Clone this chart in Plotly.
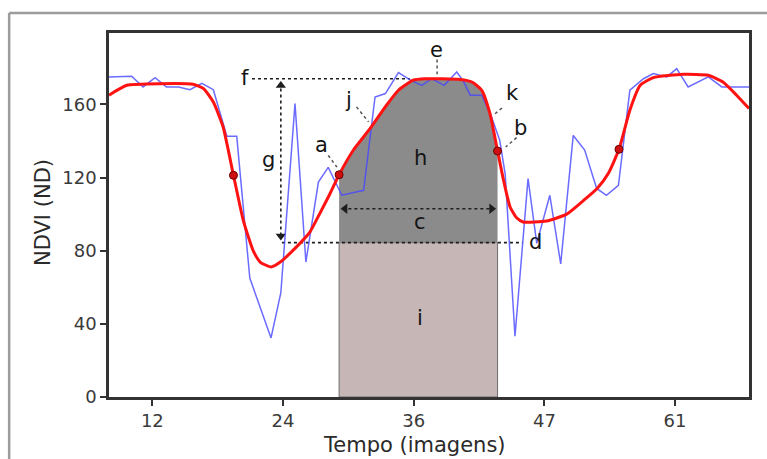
import numpy as np
import plotly.graph_objects as go

# ---------------- data ----------------
tick_vals = [12, 24, 36, 48, 60]
tick_text = ["12", "24", "36", "47", "61"]

raw_t = [8.02, 9.1, 10.1, 11.15, 12.25, 13.3, 14.4, 15.45, 16.55, 17.6, 18.85, 19.75,
         20.95, 22.9, 23.8, 25.1, 26.1, 27.25, 28.15, 29.4, 30.4, 31.4, 32.45, 33.4,
         34.6, 35.7, 36.75, 37.65, 38.8, 39.95, 40.55, 41.2, 42.25, 43.15, 43.9, 44.4,
         45.3, 46.5, 47.3, 48.5, 49.5, 50.65, 51.7, 52.8, 53.7, 54.8, 55.85, 57.1,
         58.0, 59.25, 60.15, 61.2, 63.05, 64.3, 65.35, 66.79]
raw_ndvi = [175, 175, 175.4, 169.5, 174.6, 169.5, 169.5, 168, 171.5, 168, 142.5, 142.5,
            65, 32.3, 57, 160.4, 73.8, 117.5, 125.5, 110.3, 111.5, 113, 164, 165.9,
            177.4, 173.2, 170.4, 174, 170.4, 177.7, 172.8, 165, 165, 153, 140.3, 122,
            33.2, 119.4, 84, 110.3, 72.8, 143, 135, 114, 110.3, 115.7, 167.7, 174,
            176.8, 175, 179.5, 169.5, 175, 169.5, 169.5, 169.5]

fit_t = [8.02, 9.65, 12.7, 15.75, 16.7, 17.6, 18.5, 19.45, 20.35, 21.25, 21.9, 22.9,
         23.75, 25.55, 26.45, 27.35, 28.3, 29.15, 30.45, 32.0, 33.5, 34.6, 35.95, 37.05,
         40.25, 41.35, 42.25, 43.0, 43.7, 44.25, 44.85, 45.45, 46.05, 48.2, 50.05, 51.7,
         52.85, 53.85, 54.85, 55.85, 56.8, 58.0, 60.75, 63.05, 64.4, 65.65, 66.79]
fit_ndvi = [165, 170.4, 171.3, 171.0, 168.6, 161.3, 147.6, 121.2, 96.6, 80.2, 73.8, 71.1,
            73.8, 84.0, 90.0, 100.0, 111.0, 121.5, 134.9, 146.8, 159.5, 167.7, 173.2, 174.0,
            173.6, 172.2, 167.7, 155.0, 134.5, 118.5, 103.9, 98.0, 95.7, 96.2, 100.0, 108.0,
            114.0, 122.0, 135.4, 156.8, 170.4, 174.6, 176.4, 175.9, 172.2, 165.0, 157.7]

event_t = [19.45, 29.15, 43.7, 54.85]
event_ndvi = [121.2, 121.5, 134.5, 135.4]

season_start = 29.15
season_end = 43.7
base_level = 84.4
peak_level = 174.0

FONT = "DejaVu Sans"
fig = go.Figure()

# light rectangle (i): base area
fig.add_trace(go.Scatter(
    x=[season_start, season_end, season_end, season_start, season_start],
    y=[0, 0, base_level, base_level, 0],
    mode="lines", fill="toself", fillcolor="#c6b6b6",
    line=dict(color="#6e6e6e", width=1), hoverinfo="skip"))

# dark region (h): between base level and fitted curve
ft = np.array(fit_t)
fv = np.array(fit_ndvi)
sel = (ft >= season_start) & (ft <= season_end)
poly_x = [season_start] + list(ft[sel]) + [season_end, season_end, season_start]
poly_y = [base_level] + list(fv[sel]) + [base_level, base_level, base_level]
fig.add_trace(go.Scatter(x=poly_x, y=poly_y, mode="lines", fill="toself",
                         fillcolor="#8b8b8b", line=dict(width=0), hoverinfo="skip"))

dot_line = dict(color="#1e1e1e", width=1.6, dash="dot")
# f line (peak level)
fig.add_trace(go.Scatter(x=[21.15, 35.65], y=[peak_level, peak_level], mode="lines",
                         line=dot_line, hoverinfo="skip"))
# d line (base level)
fig.add_trace(go.Scatter(x=[23.9, 46.0], y=[base_level, base_level], mode="lines",
                         line=dot_line, hoverinfo="skip"))
# g arrow (amplitude)
gx = 23.8
fig.add_trace(go.Scatter(x=[gx, gx], y=[peak_level - 2, base_level + 2], mode="lines",
                         line=dot_line, hoverinfo="skip"))
fig.add_trace(go.Scatter(x=[gx, gx], y=[170.3, 88.0], mode="markers",
                         marker=dict(symbol=["triangle-up", "triangle-down"], size=9,
                                     color="#1e1e1e"), hoverinfo="skip"))
# c arrow (length of season)
cy = 102.9
fig.add_trace(go.Scatter(x=[season_start + 0.3, season_end - 0.3], y=[cy, cy], mode="lines",
                         line=dot_line, hoverinfo="skip"))
fig.add_trace(go.Scatter(x=[season_start + 0.55, season_end - 0.55], y=[cy, cy], mode="markers",
                         marker=dict(symbol=["triangle-left", "triangle-right"], size=9,
                                     color="#1e1e1e"), hoverinfo="skip"))

# leader lines for labels
lead = dict(color="#555555", width=1.5, dash="dot")
leaders = [([38.15, 38.15], [184.5, 176.5]),   # e
           ([30.75, 31.85], [158.6, 150.4]),   # j
           ([44.1, 43.3], [158.0, 154.0]),     # k
           ([45.45, 44.45], [141.8, 136.7]),   # b
           ([28.15, 28.95], [132.1, 125.7])]   # a
for lx, ly in leaders:
    fig.add_trace(go.Scatter(x=lx, y=ly, mode="lines", line=lead, hoverinfo="skip"))

# raw NDVI
fig.add_trace(go.Scatter(x=raw_t, y=raw_ndvi, mode="lines",
                         line=dict(color="rgba(70,70,255,0.8)", width=1.5), hoverinfo="skip"))
# fitted curve
fig.add_trace(go.Scatter(x=fit_t, y=fit_ndvi, mode="lines", line_shape="spline",
                         line=dict(color="#ff1212", width=3, smoothing=0.5), hoverinfo="skip"))
# event points
fig.add_trace(go.Scatter(x=event_t, y=event_ndvi, mode="markers",
                         marker=dict(size=8, color="#d01010",
                                     line=dict(color="#6a0000", width=1)), hoverinfo="skip"))

# letter labels
labels = [("f", 20.5, 174.5), ("g", 22.65, 129.4), ("a", 27.5, 138.0), ("j", 30.0, 162.2),
          ("e", 38.05, 189.5), ("h", 36.6, 130.5), ("k", 45.1, 166.0), ("b", 45.85, 146.9),
          ("c", 36.6, 95.5), ("d", 47.2, 84.6), ("i", 36.6, 43.0)]
for txt, lx, ly in labels:
    fig.add_annotation(x=lx, y=ly, text=txt, showarrow=False,
                       font=dict(family=FONT, size=21, color="#151515"),
                       xanchor="center", yanchor="middle")

# axis titles
fig.add_annotation(xref="paper", yref="paper", x=0.4766, y=-0.131, text="Tempo (imagens)",
                   showarrow=False, font=dict(family=FONT, size=21, color="#2a2a2a"),
                   xanchor="center", yanchor="middle")
fig.add_annotation(xref="paper", yref="paper", x=-0.1031, y=0.5055, text="NDVI (ND)",
                   showarrow=False, textangle=-90,
                   font=dict(family=FONT, size=21, color="#2a2a2a"),
                   xanchor="center", yanchor="middle")

# outer figure frame (top and left)
frame = dict(color="#9c9c9c", width=2.5)
fig.add_shape(type="line", xref="paper", yref="paper", x0=-0.156, x1=1.03, y0=1.0549, y1=1.0549,
              line=frame)
fig.add_shape(type="line", xref="paper", yref="paper", x0=-0.156, x1=-0.156, y0=1.0549, y1=-0.18,
              line=frame)

axis_common = dict(showgrid=False, zeroline=False, showline=True, mirror=True,
                   linecolor="#333333", linewidth=2.5, ticks="outside", ticklen=6,
                   tickwidth=2, tickcolor="#333333",
                   tickfont=dict(family=FONT, size=18, color="#3a3a3a"))
fig.update_xaxes(range=[8.02, 66.79], tickvals=tick_vals, ticktext=tick_text, **axis_common)
fig.update_yaxes(range=[0, 199], tickvals=[0, 40, 80, 120, 160], **axis_common)

fig.update_layout(width=767, height=459, margin=dict(l=109, r=18, t=33, b=62),
                  paper_bgcolor="white", plot_bgcolor="white", showlegend=False)

fig.write_html("out.html", config={"displayModeBar": False},
               post_script="document.body.style.margin='0px';document.body.style.overflow='hidden';")
